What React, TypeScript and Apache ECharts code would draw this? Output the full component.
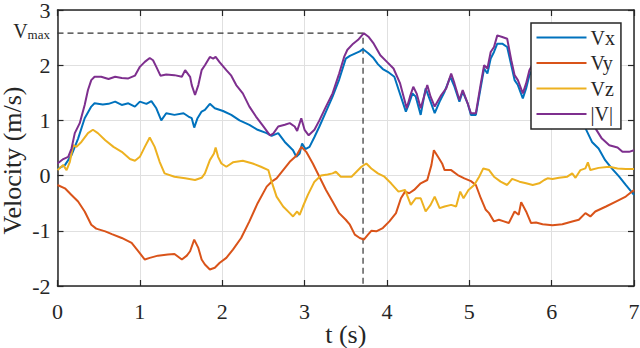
import React, { useEffect, useRef } from "react";
import * as echarts from "echarts";

const FONT = "Liberation Serif";
const TEXT = "#262626";

const xTicks = [0, 1, 2, 3, 4, 5, 6, 7];
const yTicks = [-2, -1, 0, 1, 2, 3];
const seriesNames = ["Vx", "Vy", "Vz", "|V|"];
const seriesColors = ["#0072BD", "#D95319", "#EDB120", "#7E2F8E"];

const VMAX = 2.58;
const T_VMAX = 3.71;

const vx: [number, number][] = [
  [0, 0.12], [0.09, 0.19], [0.17, 0.37], [0.25, 0.67], [0.33, 1.04], [0.41, 1.25], [0.45, 1.31],
  [0.55, 1.29], [0.62, 1.3], [0.7, 1.34], [0.78, 1.28], [0.86, 1.31], [0.94, 1.25], [1.0, 1.34],
  [1.08, 1.3], [1.14, 1.35], [1.2, 1.22], [1.26, 1.0], [1.32, 1.13], [1.42, 1.1], [1.53, 1.13],
  [1.59, 1.07], [1.63, 1.04], [1.66, 0.87], [1.7, 1.04], [1.75, 1.16], [1.79, 1.19], [1.85, 1.3],
  [1.91, 1.22], [2.01, 1.17], [2.11, 1.1], [2.21, 1.0], [2.33, 0.92], [2.43, 0.83], [2.54, 0.77],
  [2.6, 0.72], [2.68, 0.77], [2.76, 0.61], [2.86, 0.46], [2.9, 0.34], [2.94, 0.4], [2.97, 0.58],
  [3.01, 0.48], [3.06, 0.52], [3.12, 0.7], [3.18, 0.89], [3.26, 1.16], [3.34, 1.43], [3.42, 1.74],
  [3.5, 2.12], [3.55, 2.17], [3.61, 2.21], [3.67, 2.25], [3.71, 2.29], [3.77, 2.22], [3.83, 2.14],
  [3.89, 2.02], [3.95, 1.93], [4.01, 1.88], [4.09, 1.79], [4.15, 1.52], [4.23, 1.16], [4.27, 1.31],
  [4.31, 1.49], [4.35, 1.43], [4.41, 1.1], [4.47, 1.58], [4.53, 1.34], [4.58, 1.13], [4.64, 1.34],
  [4.7, 1.52], [4.77, 1.79], [4.82, 1.61], [4.88, 1.34], [4.92, 1.52], [4.98, 1.31], [5.02, 1.1],
  [5.08, 1.1], [5.14, 1.61], [5.18, 1.94], [5.22, 1.85], [5.26, 2.12], [5.3, 2.24], [5.34, 2.39],
  [5.4, 2.39], [5.46, 2.33], [5.51, 2.0], [5.55, 1.73], [5.59, 1.64], [5.65, 1.4], [5.69, 1.58],
  [5.73, 1.82], [5.8, 2.0], [5.9, 1.9], [6.0, 1.7], [6.1, 1.5], [6.2, 1.3], [6.3, 1.1], [6.41, 0.86],
  [6.49, 0.61], [6.57, 0.49], [6.65, 0.28], [6.73, 0.13], [6.82, -0.02], [6.9, -0.17], [7.0, -0.35],
];

const vy: [number, number][] = [
  [0, -0.17], [0.09, -0.23], [0.17, -0.35], [0.25, -0.47], [0.33, -0.65], [0.41, -0.89], [0.47, -0.96],
  [0.58, -1.01], [0.66, -1.06], [0.78, -1.13], [0.9, -1.22], [0.98, -1.37], [1.06, -1.52], [1.12, -1.49],
  [1.22, -1.45], [1.34, -1.43], [1.42, -1.42], [1.51, -1.52], [1.57, -1.45], [1.61, -1.37], [1.66, -1.16],
  [1.71, -1.31], [1.75, -1.52], [1.79, -1.61], [1.85, -1.7], [1.91, -1.67], [1.97, -1.58], [2.05, -1.49],
  [2.13, -1.34], [2.23, -1.13], [2.33, -0.83], [2.43, -0.5], [2.54, -0.2], [2.6, -0.11], [2.66, -0.05],
  [2.74, 0.1], [2.82, 0.25], [2.9, 0.36], [2.96, 0.52], [3.02, 0.43], [3.1, 0.22], [3.18, -0.02],
  [3.26, -0.26], [3.34, -0.47], [3.42, -0.68], [3.5, -0.8], [3.55, -0.89], [3.61, -1.07], [3.67, -1.13],
  [3.72, -1.16], [3.77, -1.07], [3.81, -1.0], [3.87, -1.01], [3.95, -0.95], [4.03, -0.83], [4.11, -0.68],
  [4.17, -0.41], [4.22, -0.29], [4.27, -0.32], [4.33, -0.26], [4.41, -0.14], [4.49, -0.08], [4.54, 0.19],
  [4.57, 0.46], [4.62, 0.34], [4.67, 0.22], [4.7, 0.1], [4.78, 0.1], [4.86, 0.01], [4.94, -0.05],
  [5.02, -0.1], [5.08, -0.17], [5.14, -0.41], [5.2, -0.62], [5.24, -0.68], [5.3, -0.83], [5.36, -0.8],
  [5.42, -0.83], [5.48, -0.86], [5.55, -0.65], [5.6, -0.71], [5.63, -0.48], [5.69, -0.65], [5.75, -0.86],
  [5.81, -0.85], [5.89, -0.88], [6.01, -0.9], [6.13, -0.88], [6.25, -0.83], [6.33, -0.8], [6.41, -0.68],
  [6.47, -0.74], [6.53, -0.65], [6.66, -0.56], [6.78, -0.47], [6.9, -0.38], [7.0, -0.26],
];

const vz: [number, number][] = [
  [0, 0.1], [0.07, 0.19], [0.11, 0.1], [0.15, 0.25], [0.19, 0.55], [0.23, 0.52], [0.29, 0.61],
  [0.37, 0.77], [0.43, 0.83], [0.49, 0.77], [0.58, 0.64], [0.68, 0.52], [0.78, 0.43], [0.88, 0.3],
  [0.94, 0.27], [1.0, 0.34], [1.06, 0.52], [1.12, 0.69], [1.18, 0.52], [1.24, 0.25], [1.3, 0.04],
  [1.42, -0.02], [1.55, -0.05], [1.67, -0.08], [1.75, -0.04], [1.79, 0.04], [1.85, 0.28], [1.9, 0.4],
  [1.92, 0.51], [1.95, 0.34], [1.99, 0.22], [2.05, 0.16], [2.13, 0.24], [2.25, 0.27], [2.37, 0.22],
  [2.47, 0.16], [2.56, 0.1], [2.6, -0.11], [2.66, -0.38], [2.74, -0.56], [2.82, -0.68], [2.86, -0.74],
  [2.91, -0.65], [2.94, -0.71], [2.98, -0.56], [3.04, -0.35], [3.12, -0.11], [3.2, 0.0], [3.28, 0.02],
  [3.34, 0.04], [3.38, 0.07], [3.44, -0.02], [3.57, -0.02], [3.63, 0.07], [3.69, 0.16], [3.75, 0.22],
  [3.81, 0.13], [3.89, 0.04], [3.97, -0.02], [4.05, -0.14], [4.14, -0.29], [4.22, -0.26], [4.29, -0.53],
  [4.35, -0.41], [4.41, -0.41], [4.47, -0.65], [4.53, -0.53], [4.58, -0.38], [4.64, -0.59], [4.7, -0.56],
  [4.78, -0.53], [4.84, -0.56], [4.89, -0.29], [4.93, -0.41], [4.99, -0.26], [5.06, -0.17], [5.12, -0.02],
  [5.17, 0.13], [5.24, 0.1], [5.3, -0.02], [5.38, -0.11], [5.46, -0.17], [5.52, -0.06], [5.61, -0.11],
  [5.69, -0.14], [5.77, -0.17], [5.85, -0.14], [5.91, -0.08], [5.95, -0.05], [6.01, -0.06], [6.09, -0.04],
  [6.19, -0.02], [6.25, 0.04], [6.29, -0.04], [6.35, 0.1], [6.41, 0.13], [6.44, 0.24], [6.47, 0.1],
  [6.57, 0.14], [6.7, 0.16], [6.8, 0.13], [6.9, 0.12], [7.0, 0.12],
];

const vmag: [number, number][] = [
  [0, 0.22], [0.07, 0.3], [0.13, 0.34], [0.17, 0.49], [0.21, 0.77], [0.27, 0.95], [0.33, 1.28],
  [0.37, 1.55], [0.41, 1.73], [0.45, 1.79], [0.53, 1.79], [0.62, 1.75], [0.7, 1.79], [0.78, 1.77],
  [0.86, 1.76], [0.94, 1.81], [1.0, 1.97], [1.06, 2.06], [1.12, 2.13], [1.16, 2.09], [1.2, 1.97],
  [1.25, 1.81], [1.32, 1.83], [1.42, 1.82], [1.51, 1.79], [1.55, 1.91], [1.61, 1.79], [1.63, 1.64],
  [1.67, 1.46], [1.71, 1.64], [1.75, 1.91], [1.79, 2.0], [1.85, 2.15], [1.89, 2.12], [1.92, 2.15],
  [1.97, 2.05], [2.05, 1.91], [2.11, 1.81], [2.17, 1.64], [2.25, 1.49], [2.33, 1.25], [2.41, 1.07],
  [2.5, 0.89], [2.58, 0.73], [2.62, 0.76], [2.68, 0.89], [2.76, 0.92], [2.82, 0.95], [2.88, 0.89],
  [2.91, 0.81], [2.96, 1.04], [3.0, 0.83], [3.05, 0.73], [3.12, 0.83], [3.18, 1.0], [3.26, 1.25],
  [3.34, 1.49], [3.42, 1.85], [3.48, 2.15], [3.52, 2.28], [3.59, 2.39], [3.65, 2.46], [3.72, 2.58],
  [3.78, 2.51], [3.84, 2.39], [3.92, 2.18], [4.0, 2.06], [4.08, 1.94], [4.16, 1.67], [4.24, 1.22],
  [4.28, 1.43], [4.32, 1.61], [4.36, 1.49], [4.41, 1.22], [4.49, 1.64], [4.53, 1.43], [4.58, 1.25],
  [4.66, 1.46], [4.72, 1.58], [4.78, 1.85], [4.82, 1.67], [4.88, 1.37], [4.92, 1.55], [4.98, 1.31],
  [5.02, 1.13], [5.08, 1.13], [5.14, 1.67], [5.18, 2.0], [5.22, 1.94], [5.26, 2.24], [5.3, 2.33],
  [5.34, 2.54], [5.4, 2.51], [5.46, 2.48], [5.51, 2.09], [5.55, 1.82], [5.59, 1.73], [5.65, 1.49],
  [5.69, 1.67], [5.73, 1.91], [5.8, 2.1], [5.95, 1.9], [6.1, 1.65], [6.25, 1.35], [6.4, 1.05],
  [6.53, 0.86], [6.61, 0.67], [6.7, 0.55], [6.8, 0.51], [6.86, 0.43], [6.94, 0.43], [7.0, 0.46],
];

const seriesData = [vx, vy, vz, vmag];

export default function App() {
  const ref = useRef<HTMLDivElement>(null);

  useEffect(() => {
    if (!ref.current) return;
    const chart = echarts.init(ref.current, undefined, { renderer: "svg" });

    const axisLine = { show: true, onZero: false, lineStyle: { color: TEXT, width: 1.5 } };
    const axisTick = { show: true, inside: true, length: 6, lineStyle: { color: TEXT, width: 1.2 } };

    chart.setOption({
      animation: false,
      backgroundColor: "#ffffff",
      grid: {
        left: 57.5, right: 6, top: 10, bottom: 62, show: false,
        containLabel: false, outerBoundsMode: "none",
      },
      xAxis: [
        {
          type: "value", min: xTicks[0], max: xTicks[xTicks.length - 1], interval: 1,
          position: "bottom", axisLine, axisTick,
          axisLabel: { fontFamily: FONT, fontSize: 22, color: TEXT, margin: 14 },
          splitLine: { show: true, lineStyle: { color: "#e0e0e0", width: 1 } },
          name: "t (s)", nameLocation: "middle", nameGap: 36, nameMoveOverlap: false,
          nameTextStyle: { fontFamily: FONT, fontSize: 26, color: TEXT, lineHeight: 24 },
        },
        {
          type: "value", min: xTicks[0], max: xTicks[xTicks.length - 1], interval: 1,
          position: "top", axisLine, axisTick, axisLabel: { show: false }, splitLine: { show: false },
        },
      ],
      yAxis: [
        {
          type: "value", min: yTicks[0], max: yTicks[yTicks.length - 1], interval: 1,
          position: "left", axisLine, axisTick,
          axisLabel: { fontFamily: FONT, fontSize: 22, color: TEXT, margin: 7, lineHeight: 18 },
          splitLine: { show: true, lineStyle: { color: "#e0e0e0", width: 1 } },
          name: "Velocity (m/s)", nameLocation: "middle", nameGap: 33, nameMoveOverlap: false,
          nameTextStyle: {
            fontFamily: FONT, fontSize: 26, color: TEXT, lineHeight: 24, padding: [0, 25, 0, 0],
          },
        },
        {
          type: "value", min: yTicks[0], max: yTicks[yTicks.length - 1], interval: 1,
          position: "right", axisLine, axisTick, axisLabel: { show: false }, splitLine: { show: false },
        },
      ],
      legend: {
        data: seriesNames,
        orient: "vertical",
        left: 531,
        top: 23,
        icon: "rect",
        itemWidth: 50,
        itemHeight: 2,
        itemGap: 5.5,
        padding: [4.5, 6, 5, 5.5],
        backgroundColor: "#ffffff",
        borderColor: TEXT,
        borderWidth: 1.5,
        borderRadius: 0,
        textStyle: { fontFamily: FONT, fontSize: 20, color: TEXT, padding: [0, 0, 0, -1] },
        z: 10,
      },
      graphic: [
        {
          type: "text",
          x: 50,
          y: 31,
          z: 10,
          style: {
            text: "{a|V}{b|max}",
            align: "right",
            verticalAlign: "middle",
            rich: {
              a: { fontFamily: FONT, fontSize: 20, fill: TEXT, verticalAlign: "bottom" },
              b: { fontFamily: FONT, fontSize: 13, fill: TEXT, verticalAlign: "bottom" },
            },
          },
        },
      ],
      series: [
        {
          name: "Vmax marker",
          type: "line",
          data: [[0, VMAX], [T_VMAX, VMAX], [T_VMAX, yTicks[0]]],
          symbol: "none",
          lineStyle: { color: "#333333", width: 1.2, type: [6, 4] },
          z: 1,
          silent: true,
        },
        ...seriesNames.map((name, i) => ({
          name,
          type: "line",
          data: seriesData[i],
          symbol: "none",
          showSymbol: false,
          color: seriesColors[i],
          lineStyle: { color: seriesColors[i], width: 2 },
          z: 2 + i,
        })),
      ],
    });

    return () => chart.dispose();
  }, []);

  return (
    <div
      ref={ref}
      style={{ position: "fixed", left: 0, top: 0, width: 640, height: 348, background: "#fff" }}
    />
  );
}
